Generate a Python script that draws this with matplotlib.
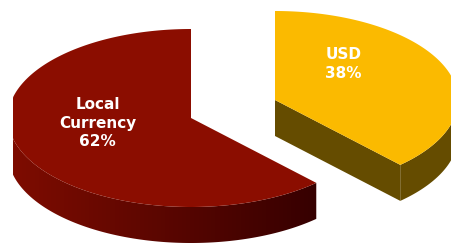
import numpy as np
import matplotlib
matplotlib.use("Agg")
import matplotlib.pyplot as plt
from matplotlib.patches import Polygon
from matplotlib.colors import LinearSegmentedColormap

# ---- data ----
categories = ["Local\nCurrency", "USD"]
shares = [62, 38]
top_colors = ["#8B0D00", "#FBBA00"]
side_colors = [("#7E0C00", "#360000"), ("#654C00", "#654C00")]

# ---- layout (pixels) ----
W, H = 451, 243
centers = [(191, 118), (275, 100)]
rx, ry, depth = 183, 89, 36
clip_x = (13, 451)
label_pos = [(97.5, 123), (343.5, 64)]

fig = plt.figure(figsize=(W / 100, H / 100), dpi=100)
ax = fig.add_axes([0, 0, 1, 1])
ax.set_xlim(0, W)
ax.set_ylim(H, 0)
ax.axis("off")


def clipx(p):
    p = np.asarray(p, dtype=float).copy()
    p[:, 0] = np.clip(p[:, 0], clip_x[0], clip_x[1])
    return p


def pt(c, t, dz=0.0):
    return (c[0] + rx * np.cos(np.radians(t)), c[1] - ry * np.sin(np.radians(t)) + dz)


def arc(c, t1, t2, dz=0.0, n=300):
    ts = np.linspace(t1, t2, n)
    return np.column_stack([c[0] + rx * np.cos(np.radians(ts)),
                            c[1] - ry * np.sin(np.radians(ts)) + dz])


# angles: start at 12 o'clock, counter-clockwise
total = float(sum(shares))
angles = []
start = 90.0
for s in shares:
    sweep = 360.0 * s / total
    angles.append((start, start + sweep))
    start += sweep

for i, (c, (t1, t2)) in enumerate(zip(centers, angles)):
    # outer wall: visible front portion (angles 180..360 mod 360)
    segs = []
    for k in range(-1, 3):
        a = max(t1, 180 + 360 * k)
        b = min(t2, 360 + 360 * k)
        if b > a:
            segs.append((a, b))
    for a, b in segs:
        topa = arc(c, a, b)
        bota = arc(c, b, a, dz=depth)
        poly = clipx(np.vstack([topa, bota]))
        lc, rc = side_colors[i]
        if lc == rc:
            ax.add_patch(Polygon(poly, closed=True, facecolor=lc, edgecolor="none"))
        else:
            patch = Polygon(poly, closed=True, facecolor="none", edgecolor="none")
            ax.add_patch(patch)
            cmap = LinearSegmentedColormap.from_list("g", [lc, rc])
            x0, x1 = poly[:, 0].min(), poly[:, 0].max()
            y0, y1 = poly[:, 1].min(), poly[:, 1].max()
            grad = np.linspace(0, 1, 256)[None, :]
            im = ax.imshow(grad, cmap=cmap, extent=[x0, x1, y1, y0],
                           aspect="auto", interpolation="bilinear", zorder=1)
            im.set_clip_path(patch)
    # cut face at start angle (visible if facing viewer)
    n_start = t1 - 90
    if np.sin(np.radians(n_start)) < 0 and np.cos(np.radians(n_start)) < 0.2:
        p = pt(c, t1)
        face = clipx([c, p, (p[0], p[1] + depth), (c[0], c[1] + depth)])
        ax.add_patch(Polygon(face, closed=True, facecolor=side_colors[i][1],
                             edgecolor="none", zorder=1.5))
    # top surface
    top = clipx(np.vstack([[c], arc(c, t1, t2), [c]]))
    ax.add_patch(Polygon(top, closed=True, facecolor=top_colors[i],
                         edgecolor="none", zorder=2))

for (x, y), cat, s in zip(label_pos, categories, shares):
    ax.text(x, y, f"{cat}\n{s}%", ha="center", va="center", color="white",
            fontsize=11, fontweight="bold", linespacing=1.3,
            family="DejaVu Sans", zorder=5)

fig.savefig("out.png", dpi=100, facecolor="white")
